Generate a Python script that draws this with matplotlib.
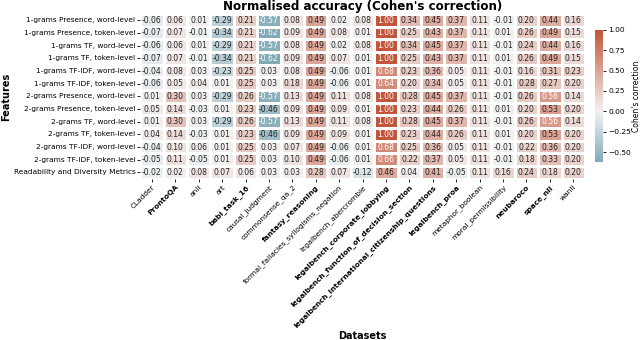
import numpy as np
import matplotlib
matplotlib.use('Agg')
import matplotlib.pyplot as plt
import seaborn as sns

features = [
    '1-grams Presence, word-level',
    '1-grams Presence, token-level',
    '1-grams TF, word-level',
    '1-grams TF, token-level',
    '1-grams TF-IDF, word-level',
    '1-grams TF-IDF, token-level',
    '2-grams Presence, word-level',
    '2-grams Presence, token-level',
    '2-grams TF, word-level',
    '2-grams TF, token-level',
    '2-grams TF-IDF, word-level',
    '2-grams TF-IDF, token-level',
    'Readability and Diversity Metrics',
]

datasets = [
    'CLadder', 'ProntoQA', 'anli', 'art', 'babi_task_16', 'causal_judgment',
    'commonsense_qa_2', 'fantasy_reasoning', 'formal_fallacies_syllogisms_negation',
    'legalbench_abercrombie', 'legalbench_corporate_lobbying',
    'legalbench_function_of_decision_section',
    'legalbench_international_citizenship_questions', 'legalbench_proa',
    'metaphor_boolean', 'moral_permissibility', 'neubaroco', 'space_nli', 'wanli',
]

# datasets shown in bold on the x axis
bold_datasets = [
    'ProntoQA', 'babi_task_16', 'fantasy_reasoning', 'legalbench_corporate_lobbying',
    'legalbench_function_of_decision_section',
    'legalbench_international_citizenship_questions', 'legalbench_proa',
    'neubaroco', 'space_nli',
]

uni_presence_word = [-0.06, 0.06, 0.01, -0.29, 0.21, -0.57, 0.08, 0.49, 0.02, 0.08, 1.00, 0.34, 0.45, 0.37, 0.11, -0.01, 0.20, 0.44, 0.16]
uni_presence_token = [-0.07, 0.07, -0.01, -0.34, 0.21, -0.62, 0.09, 0.49, 0.08, 0.01, 1.00, 0.25, 0.43, 0.37, 0.11, 0.01, 0.26, 0.49, 0.15]
uni_tf_word = [-0.06, 0.06, 0.01, -0.29, 0.21, -0.57, 0.08, 0.49, 0.02, 0.08, 1.00, 0.34, 0.45, 0.37, 0.11, -0.01, 0.24, 0.44, 0.16]
uni_tf_token = [-0.07, 0.07, -0.01, -0.34, 0.21, -0.62, 0.09, 0.49, 0.07, 0.01, 1.00, 0.25, 0.43, 0.37, 0.11, 0.01, 0.26, 0.49, 0.15]
uni_tfidf_word = [-0.04, 0.08, 0.03, -0.23, 0.25, 0.03, 0.08, 0.49, -0.06, 0.01, 0.68, 0.23, 0.36, 0.05, 0.11, -0.01, 0.16, 0.31, 0.23]
uni_tfidf_token = [-0.06, 0.05, 0.04, 0.01, 0.25, 0.03, 0.18, 0.49, -0.06, 0.01, 0.64, 0.20, 0.34, 0.05, 0.11, -0.01, 0.28, 0.27, 0.20]
bi_presence_word = [0.01, 0.30, 0.03, -0.29, 0.26, -0.57, 0.13, 0.49, 0.11, 0.08, 1.00, 0.28, 0.45, 0.37, 0.11, -0.01, 0.26, 0.56, 0.14]
bi_presence_token = [0.05, 0.14, -0.03, 0.01, 0.23, -0.46, 0.09, 0.49, 0.09, 0.01, 1.00, 0.23, 0.44, 0.26, 0.11, 0.01, 0.20, 0.53, 0.20]
bi_tf_word = [0.01, 0.30, 0.03, -0.29, 0.26, -0.57, 0.13, 0.49, 0.11, 0.08, 1.00, 0.28, 0.45, 0.37, 0.11, -0.01, 0.26, 0.56, 0.14]
bi_tf_token = [0.04, 0.14, -0.03, 0.01, 0.23, -0.46, 0.09, 0.49, 0.09, 0.01, 1.00, 0.23, 0.44, 0.26, 0.11, 0.01, 0.20, 0.53, 0.20]
bi_tfidf_word = [-0.04, 0.10, 0.06, 0.01, 0.25, 0.03, 0.07, 0.49, -0.06, 0.01, 0.68, 0.25, 0.36, 0.05, 0.11, -0.01, 0.22, 0.36, 0.20]
bi_tfidf_token = [-0.05, 0.11, -0.05, 0.01, 0.25, 0.03, 0.10, 0.49, -0.06, 0.01, 0.66, 0.22, 0.37, 0.05, 0.11, -0.01, 0.18, 0.33, 0.20]
readability = [-0.02, 0.02, 0.08, 0.07, 0.06, 0.03, 0.03, 0.28, 0.07, -0.12, 0.46, 0.04, 0.41, -0.05, 0.11, 0.16, 0.24, 0.18, 0.20]

values = np.array([
    uni_presence_word, uni_presence_token, uni_tf_word, uni_tf_token,
    uni_tfidf_word, uni_tfidf_token, bi_presence_word, bi_presence_token,
    bi_tf_word, bi_tf_token, bi_tfidf_word, bi_tfidf_token, readability,
])

fig = plt.figure(figsize=(6.4, 3.4), dpi=100)
ax = fig.add_axes([0.219, 0.474, 0.695, 0.485])
cax = fig.add_axes([0.930, 0.524, 0.0125, 0.388])

cmap = sns.diverging_palette(220, 20, as_cmap=True)
sns.heatmap(values, ax=ax, cbar_ax=cax, cmap=cmap, center=0,
            annot=True, fmt='.2f', annot_kws={'fontsize': 5.5},
            linewidths=0.8, linecolor='white',
            xticklabels=datasets, yticklabels=features)

ax.set_title("Normalised accuracy (Cohen's correction)", fontsize=8.6,
             fontweight='bold', pad=3)
ax.set_xlabel('Datasets', fontsize=7, fontweight='bold')
ax.set_ylabel('Features', fontsize=7, fontweight='bold')
ax.xaxis.set_label_coords(0.5, -0.925)
ax.yaxis.set_label_coords(-0.29, 0.5)

ax.tick_params(axis='both', labelsize=5.3, length=2, width=0.6, pad=1.5)
ax.set_yticklabels(features, rotation=0)
ax.set_xticklabels(datasets, rotation=45, ha='right', rotation_mode='anchor')
for lbl in ax.get_xticklabels():
    if lbl.get_text() in bold_datasets:
        lbl.set_fontweight('bold')

cax.tick_params(labelsize=5.4, length=2, width=0.6, pad=1.5)
cax.set_yticks([-0.5, -0.25, 0, 0.25, 0.5, 0.75, 1.0])
cax.set_ylabel("Cohen's correction", fontsize=5.5, labelpad=1)
for s in cax.spines.values():
    s.set_visible(False)

fig.savefig('out.png', dpi=100)
